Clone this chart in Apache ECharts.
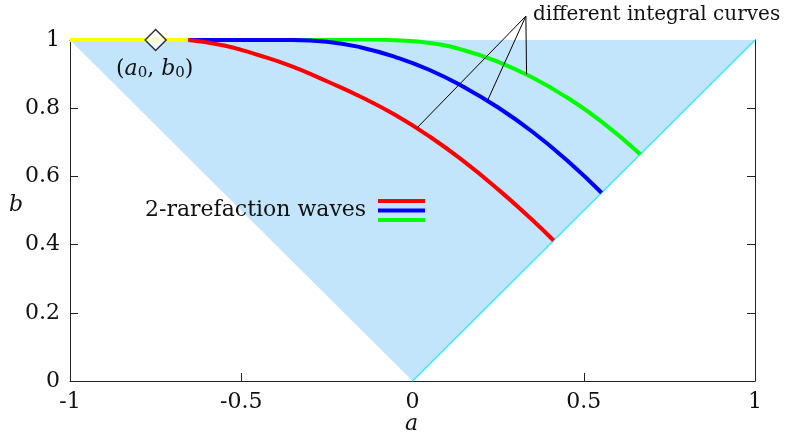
<!DOCTYPE html>
<html>
<head>
<meta charset="utf-8">
<script src="https://cdn.jsdelivr.net/npm/echarts@6/dist/echarts.min.js"></script>
<style>html,body{margin:0;padding:0;background:#fff}#c{width:811px;height:434px}</style>
</head>
<body>
<div id="c"></div>
<script>
// ---- data ----
const xTickLabels = ['-1', '-0.5', '0', '0.5', '1'];
const yTickLabels = ['0', '0.2', '0.4', '0.6', '0.8', '1'];
const regionA = [-1, 0, 1];
const regionB = [1, 0, 1];
const diagA = [0, 1];
const diagB = [0, 1];
const redA = [-0.655, -0.55, -0.45, -0.35, -0.25, -0.15, -0.05, 0.05, 0.15, 0.25, 0.35, 0.412];
const redB = [1.0, 0.984, 0.956, 0.922, 0.879, 0.833, 0.780, 0.717, 0.644, 0.562, 0.472, 0.412];
const blueA = [-0.655, -0.55, -0.45, -0.35, -0.25, -0.15, -0.05, 0.05, 0.15, 0.25, 0.35, 0.45, 0.552];
const blueB = [1.0, 1.0, 1.0, 1.0, 0.995, 0.978, 0.950, 0.912, 0.862, 0.802, 0.731, 0.648, 0.552];
const greenA = [-0.655, -0.55, -0.45, -0.35, -0.25, -0.15, -0.05, 0.05, 0.15, 0.25, 0.35, 0.45, 0.55, 0.665];
const greenB = [1.0, 1.0, 1.0, 1.001, 1.002, 1.002, 0.999, 0.991, 0.970, 0.936, 0.890, 0.832, 0.762, 0.665];
const yellowA = [-1, -0.655];
const yellowB = [1, 1];
const pointA = [-0.75];
const pointB = [1];
const annoOrigin = [0.331, 1.07];
const annoTargetsA = [0.013, 0.2175, 0.333];
const annoTargetsB = [0.742, 0.819, 0.899];

const zip = (a, b) => a.map((v, i) => [v, b[i]]);
const FONT = 'DejaVu Serif';
const FS = 22;

const chart = echarts.init(document.getElementById('c'));
const axLine = { show: true, onZero: false, lineStyle: { color: '#222', width: 1 } };
const axTick = { show: true, inside: true, length: 8, lineStyle: { color: '#222', width: 1 } };

const annoSeries = annoTargetsA.map((a, i) => ({
  type: 'line', data: [annoOrigin, [a, annoTargetsB[i]]], clip: false, symbol: 'none',
  lineStyle: { color: '#000', width: 1 }, silent: true, z: 5
}));

chart.setOption({
  animation: false,
  grid: { left: 70, right: 56, top: 40, bottom: 53 },
  xAxis: [
    { type: 'value', min: -1, max: 1, interval: 0.5, position: 'bottom',
      axisLine: axLine, axisTick: axTick, splitLine: { show: false },
      axisLabel: { margin: 10, fontFamily: FONT, fontSize: FS, color: '#111',
        formatter: (v) => xTickLabels[Math.round((v + 1) / 0.5)] } },
    { type: 'value', min: -1, max: 1, interval: 0.5, position: 'top',
      axisLine: axLine, axisTick: axTick, splitLine: { show: false }, axisLabel: { show: false } }
  ],
  yAxis: [
    { type: 'value', min: 0, max: 1, interval: 0.2, position: 'left',
      axisLine: axLine, axisTick: axTick, splitLine: { show: false },
      axisLabel: { margin: 10, fontFamily: FONT, fontSize: FS, color: '#111',
        formatter: (v) => yTickLabels[Math.round(v / 0.2)] } },
    { type: 'value', min: 0, max: 1, interval: 0.2, position: 'right',
      axisLine: axLine, axisTick: axTick, splitLine: { show: false }, axisLabel: { show: false } }
  ],
  series: [
    { type: 'line', data: zip(regionA, regionB), symbol: 'none', lineStyle: { width: 0 },
      areaStyle: { origin: 'end', color: '#c3e5fc', opacity: 1 }, silent: true },
    { type: 'line', data: zip(diagA, diagB), symbol: 'none', lineStyle: { color: '#33eeff', width: 1.5 } },
    { type: 'line', data: zip(greenA, greenB), symbol: 'none', smooth: true, lineStyle: { color: '#00ff00', width: 4 } },
    { type: 'line', data: zip(blueA, blueB), symbol: 'none', smooth: true, lineStyle: { color: '#0000ff', width: 4 } },
    { type: 'line', data: zip(redA, redB), symbol: 'none', smooth: true, lineStyle: { color: '#ff0000', width: 4 } },
    { type: 'line', data: zip(yellowA, yellowB), symbol: 'none', clip: false, lineStyle: { color: '#ffff00', width: 4 } },
    ...annoSeries,
    { type: 'scatter', data: zip(pointA, pointB), symbol: 'diamond', symbolSize: [21, 21], clip: false,
      itemStyle: { color: '#fff', borderColor: '#000', borderWidth: 1.5 }, z: 6 }
  ],
  graphic: [
    { type: 'text', left: 533, top: 5, z: 10,
      style: { text: 'different integral curves', fontFamily: FONT, fontSize: 20, fill: '#111' } },
    { type: 'text', left: 145, top: 199, z: 10,
      style: { text: '2-rarefaction waves', fontFamily: FONT, fontSize: FS, fill: '#111' } },
    { type: 'line', z: 10, shape: { x1: 378, y1: 201, x2: 425, y2: 201 }, style: { stroke: '#ff0000', lineWidth: 4 } },
    { type: 'line', z: 10, shape: { x1: 378, y1: 210.5, x2: 425, y2: 210.5 }, style: { stroke: '#0000ff', lineWidth: 4 } },
    { type: 'line', z: 10, shape: { x1: 378, y1: 220, x2: 425, y2: 220 }, style: { stroke: '#00ff00', lineWidth: 4 } },
    { type: 'text', left: 116, top: 58, z: 10,
      style: { text: '({i|a}{s|0}, {i|b}{s|0})', fontFamily: FONT, fontSize: FS, fill: '#111',
        rich: { i: { fontStyle: 'italic', fontFamily: FONT, fontSize: FS },
                s: { fontFamily: FONT, fontSize: 15, verticalAlign: 'bottom', padding: [8, 0, 0, 0] } } } },
    { type: 'text', left: 9, top: 194, z: 10,
      style: { text: 'b', fontFamily: FONT, fontStyle: 'italic', fontSize: FS, fill: '#111' } },
    { type: 'text', left: 405, top: 413, z: 10,
      style: { text: 'a', fontFamily: FONT, fontStyle: 'italic', fontSize: FS, fill: '#111' } }
  ]
});
</script>
</body>
</html>
